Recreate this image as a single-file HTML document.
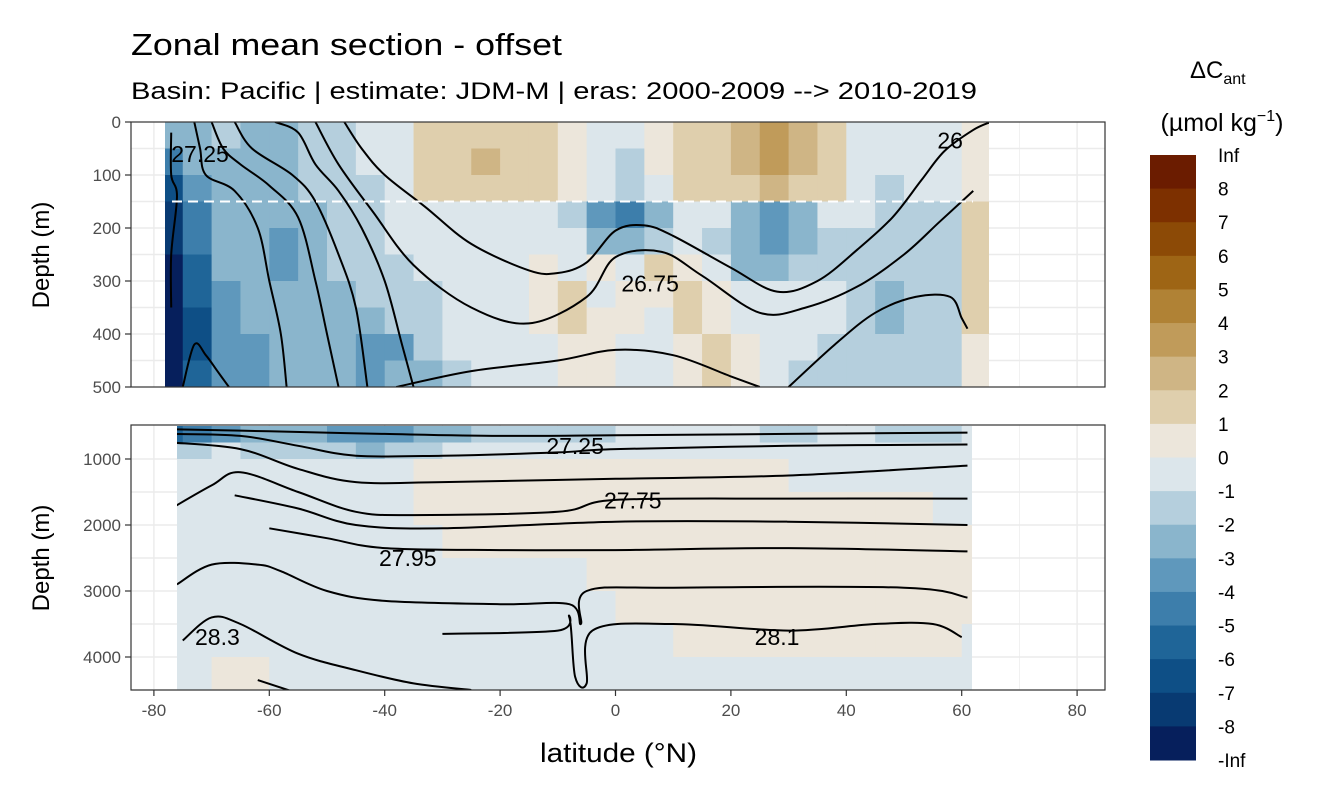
<!DOCTYPE html>
<html><head><meta charset="utf-8"><style>
body{margin:0;background:#fff;}
svg text{font-family:"Liberation Sans",sans-serif;}
</style></head><body>
<svg id="chart" width="1344" height="806" xmlns="http://www.w3.org/2000/svg">
<text x="131" y="55" font-size="31" textLength="431" lengthAdjust="spacingAndGlyphs" fill="#000">Zonal mean section - offset</text>
<text x="131" y="99" font-size="24" textLength="846" lengthAdjust="spacingAndGlyphs" fill="#000">Basin: Pacific | estimate: JDM-M | eras: 2000-2009 --&gt; 2010-2019</text>
<defs>
<clipPath id="clipTop"><rect x="165" y="122" width="824" height="265"/></clipPath>
<clipPath id="clipBot"><rect x="177" y="425" width="795" height="265"/></clipPath>
</defs>
<g id="gridTop"></g><g id="gridBot"></g>
<g id="cellsTop" clip-path="url(#clipTop)"></g>
<g id="cellsBot" clip-path="url(#clipBot)"></g>
<g id="linesTop" clip-path="url(#clipTop)"></g>
<g id="linesBot" clip-path="url(#clipBot)"></g>
<line x1="172" y1="201.5" x2="973" y2="201.5" stroke="#fff" stroke-width="2" stroke-dasharray="10,6"/>
<g id="labels" font-size="23" fill="#000"></g>
<rect x="131" y="122" width="974" height="265" fill="none" stroke="#333" stroke-width="1.2"/>
<rect x="131" y="425" width="974" height="265" fill="none" stroke="#333" stroke-width="1.2"/>
<g id="axes" font-size="17" fill="#4d4d4d"></g>
<text transform="translate(49,255) rotate(-90)" text-anchor="middle" font-size="24">Depth (m)</text>
<text transform="translate(49,558) rotate(-90)" text-anchor="middle" font-size="24">Depth (m)</text>
<text x="540" y="762" font-size="27" textLength="157" lengthAdjust="spacingAndGlyphs">latitude (°N)</text>
<text x="1190" y="78" font-size="24">ΔC<tspan font-size="16" dy="6">ant</tspan></text>
<text x="1222" y="131" text-anchor="middle" font-size="25">(µmol kg<tspan font-size="16" dy="-10">−1</tspan><tspan dy="10">)</tspan></text>
<g id="legend"></g>
</svg>
<script>
const palette=["#061f5c","#083a72","#0e4f86","#1f6598","#3d7eab","#5f98bc","#8ab5cc","#b5cfdd","#dce6eb","#ece6db","#dfcfad","#cfb585","#c09b5a","#b08235","#9e6515","#8c4a06","#7d3000","#6b1c00"];
const legendLabels=["Inf","8","7","6","5","4","3","2","1","0","-1","-2","-3","-4","-5","-6","-7","-8","-Inf"];
const colLats=[-80,-75,-70,-65,-60,-55,-50,-45,-40,-35,-30,-25,-20,-15,-10,-5,0,5,10,15,20,25,30,35,40,45,50,55,60];
const topRows=[0,50,100,150,200,250,300,350,400,450,500];
const botRows=[500,750,1000,1500,2000,2500,3000,3500,4000,4500];
const topValues=[
[-3,-3,-2,-3,-3,-2,-2,-1,-1,1,1,1,1,1,0,-1,-1,0,1,1,2,3,2,1,-1,-1,-1,-1,0],
[-5,-3,-3,-3,-3,-2,-2,-1,-1,1,1,2,1,1,0,-1,-2,0,1,1,2,3,2,1,-1,-1,-1,-1,0],
[-7,-4,-3,-3,-3,-2,-2,-2,-1,1,1,1,1,1,0,-1,-2,-1,1,1,1,2,1,1,-1,-2,-1,-1,0],
[-8,-5,-3,-3,-3,-3,-2,-2,-1,-1,-1,-1,-1,-1,-2,-4,-5,-3,-1,-1,-3,-4,-3,-1,-1,-2,-2,-2,1],
[-8,-5,-3,-3,-4,-3,-2,-2,-1,-1,-1,-1,-1,-1,-1,-3,-3,-2,-1,-2,-3,-4,-3,-2,-2,-2,-2,-2,1],
[-9,-6,-3,-3,-4,-3,-2,-2,-2,-1,-1,-1,-1,0,-1,0,-1,1,0,-1,-3,-3,-2,-2,-2,-2,-2,-2,1],
[-9,-6,-4,-3,-3,-3,-3,-2,-2,-2,-1,-1,-1,0,1,-1,0,0,1,0,-1,-1,-1,-1,-2,-3,-2,-2,1],
[-9,-7,-4,-3,-3,-3,-3,-3,-2,-2,-1,-1,-1,0,1,0,0,-1,1,0,-1,-1,-1,-1,-2,-3,-2,-2,1],
[-9,-7,-4,-4,-3,-3,-3,-4,-4,-2,-1,-1,-1,-1,0,0,-1,-1,0,1,0,-1,-1,-2,-2,-2,-2,-2,0],
[-9,-6,-4,-4,-3,-3,-3,-4,-3,-3,-2,-1,-1,-1,0,0,-1,-1,0,1,0,-1,-2,-2,-2,-2,-2,-2,0]];
const botValues=[
[-6,-5,-4,-3,-3,-3,-4,-4,-4,-3,-3,-2,-2,-2,-2,-2,-1,-1,-1,-1,-1,-2,-2,-1,-1,-2,-2,-2,-1],
[-2,-2,-1,-2,-2,-2,-2,-3,-2,-2,-1,-1,-1,-1,-1,-1,-1,-1,-1,-1,-1,-1,-1,-1,-1,-1,-1,-1,-1],
[-1,-1,-1,-1,-1,-1,-1,-1,-1,0,0,0,0,0,0,0,0,0,0,0,0,0,-1,-1,-1,-1,-1,-1,-1],
[-1,-1,-1,-1,-1,-1,-1,-1,-1,0,0,0,0,0,0,0,0,0,0,0,0,0,0,0,0,0,0,-1,-1],
[-1,-1,-1,-1,-1,-1,-1,-1,-1,-1,0,0,0,0,0,0,0,0,0,0,0,0,0,0,0,0,0,0,0],
[-1,-1,-1,-1,-1,-1,-1,-1,-1,-1,-1,-1,-1,-1,-1,0,0,0,0,0,0,0,0,0,0,0,0,0,0],
[-1,-1,-1,-1,-1,-1,-1,-1,-1,-1,-1,-1,-1,-1,-1,-1,0,0,0,0,0,0,0,0,0,0,0,0,0],
[-1,-1,-1,-1,-1,-1,-1,-1,-1,-1,-1,-1,-1,-1,-1,-1,-1,-1,0,0,0,0,0,0,0,0,0,0,-1],
[-1,-1,0,0,-1,-1,-1,-1,-1,-1,-1,-1,-1,-1,-1,-1,-1,-1,-1,-1,-1,-1,-1,-1,-1,-1,-1,-1,-1]];
const topLines=[
[[-77,20],[-77,100],[-76,140],[-77,250],[-77,350]],
[[-73,0],[-72,50],[-71,100],[-66,130],[-62,200],[-60,300],[-58,400],[-57,500]],
[[-70,0],[-68,50],[-65,80],[-60,120],[-55,180],[-52,300],[-50,400],[-48,500]],
[[-66,0],[-63,50],[-56,100],[-52,150],[-48,250],[-45,350],[-43,500]],
[[-59,0],[-55,20],[-52,80],[-48,130],[-44,200],[-40,300],[-37,420],[-35,500]],
[[-47,0],[-44,50],[-40,100],[-33,160],[-25,230],[-15,280],[-10,285],[-5,265],[0,205],[5,195],[10,215],[20,275],[28,320],[35,300],[42,240],[48,180],[53,110],[57,55],[62,15],[65,0]],
[[-52,0],[-48,80],[-42,170],[-35,270],[-25,350],[-15,380],[-5,330],[0,255],[8,245],[15,290],[25,360],[33,350],[42,310],[50,250],[56,190],[60,150],[62,130]],
[[-38,500],[-25,470],[-10,450],[0,430],[10,440],[20,480],[25,500]],
[[30,500],[38,420],[45,360],[52,330],[58,330],[60,370],[61,390]],
[[-75,500],[-73,420],[-71,440],[-69,470],[-67,500]]];
const botLines=[
[[-77,550],[-60,580],[-40,620],[-20,650],[0,640],[30,620],[61,600]],
[[-77,620],[-65,650],[-55,800],[-45,950],[-30,950],[-10,900],[0,850],[30,800],[61,780]],
[[-77,750],[-65,850],[-55,1150],[-45,1350],[-30,1350],[0,1300],[30,1250],[61,1100]],
[[-77,1750],[-70,1400],[-65,1200],[-55,1500],[-45,1800],[-35,1850],[-10,1800],[0,1620],[30,1600],[61,1600]],
[[-66,1550],[-55,1750],[-45,2000],[-30,2050],[0,1950],[30,1950],[61,2000]],
[[-60,2050],[-50,2200],[-40,2350],[-20,2380],[0,2380],[30,2350],[61,2400]],
[[-76,2900],[-70,2600],[-62,2600],[-58,2700],[-50,3000],[-40,3150],[-20,3200],[-8,3200],[-6,3500],[-5,3000],[10,2950],[50,2950],[61,3100]],
[[-30,3650],[-10,3600],[-8,3400],[-7,4300],[-5,4400],[-4,3600],[10,3500],[30,3600],[45,3500],[55,3500],[60,3700]],
[[-75,3750],[-70,3400],[-65,3500],[-55,3950],[-45,4200],[-35,4400],[-25,4500]],
[[-62,4350],[-55,4550]]];
const labelTexts=["27.25","26","26.75","27.25","27.75","27.95","28.3","28.1"];
const labelLats=[-72,58,6,-7,3,-36,-69,28];
const labelDepths=[60,35,305,800,1630,2500,3700,3700];
const labelPanels=[0,0,0,1,1,1,1,1];
const xTicks=[-80,-60,-40,-20,0,20,40,60,80];
const topTicks=[0,100,200,300,400,500];
const botTicks=[1000,2000,3000,4000];

const NS="http://www.w3.org/2000/svg";
const xS=l=>615.5+l*5.77;
const yT=d=>122+d*0.53;
const yB=d=>459+(d-1000)*0.066;
function mk(tag,attrs,parent){const e=document.createElementNS(NS,tag);for(const k in attrs)e.setAttribute(k,attrs[k]);parent.appendChild(e);return e;}
const $=id=>document.getElementById(id);
function grid(g,y0,y1,ys,ticks){
  for(let l=-90;l<=90;l+=10){const x=xS(l);if(x<131||x>1105)continue;
    const ln=mk('line',{x1:x,x2:x,y1:y0,y2:y1,stroke:'#ebebeb','stroke-width':l%20===0?1.4:0.7},g);
    }
  ticks.forEach(t=>{const ln=mk('line',{x1:131,x2:1105,y1:ys(t),y2:ys(t),stroke:'#ebebeb','stroke-width':1.4},g);
    });
}
grid($('gridTop'),122,387,yT,[50,100,150,200,250,300,350,400,450]);
grid($('gridBot'),425,690,yB,[1000,1500,2000,2500,3000,3500,4000,4500]);
function cells(g,rows,vals,ys){
  for(let r=0;r<vals.length;r++)for(let c=0;c<colLats.length;c++){
    const v=vals[r][c];const x0=xS(colLats[c]),x1=xS(colLats[c]+5);
    const y0=ys(rows[r]),y1=ys(rows[r+1]);
    const rc=mk('rect',{x:x0,y:y0,width:x1-x0+0.6,height:y1-y0+0.6,fill:palette[Math.max(0,Math.min(17,v+9))]},g);
    
    
  }
}
cells($('cellsTop'),topRows,topValues,yT);
cells($('cellsBot'),botRows,botValues,yB);
function smooth(pts){
  if(pts.length<3)return 'M'+pts.map(p=>p.join(',')).join('L');
  let d='M'+pts[0][0]+','+pts[0][1];
  for(let i=0;i<pts.length-1;i++){
    const p0=pts[i-1]||pts[i],p1=pts[i],p2=pts[i+1],p3=pts[i+2]||p2;
    const c1=[p1[0]+(p2[0]-p0[0])/6,p1[1]+(p2[1]-p0[1])/6],c2=[p2[0]-(p3[0]-p1[0])/6,p2[1]-(p3[1]-p1[1])/6];
    d+='C'+c1+' '+c2+' '+p2;
  }
  return d;
}
function lines(g,ls,ys){
  ls.forEach(l=>{const p=mk('path',{d:smooth(l.map(q=>[xS(q[0]),ys(q[1])])),fill:'none',stroke:'#000','stroke-width':2,'stroke-linejoin':'round'},g);
    
    });
}
lines($('linesTop'),topLines,yT);
lines($('linesBot'),botLines,yB);
labelTexts.forEach((t,i)=>{const ys=labelPanels[i]?yB:yT;
  const e=mk('text',{x:xS(labelLats[i]),y:ys(labelDepths[i])+8,'text-anchor':'middle'},$('labels'));e.textContent=t;
  
  });
const ax=$('axes');
xTicks.forEach(t=>{mk('line',{x1:xS(t),x2:xS(t),y1:690,y2:696,stroke:'#333','stroke-width':1.2},ax);
  const e=mk('text',{x:xS(t),y:716,'text-anchor':'middle'},ax);e.textContent=t;
  
  });
topTicks.forEach(t=>{mk('line',{x1:125,x2:131,y1:yT(t),y2:yT(t),stroke:'#333','stroke-width':1.2},ax);
  const e=mk('text',{x:121,y:yT(t)+6,'text-anchor':'end'},ax);e.textContent=t;
  
  });
botTicks.forEach(t=>{mk('line',{x1:125,x2:131,y1:yB(t),y2:yB(t),stroke:'#333','stroke-width':1.2},ax);
  const e=mk('text',{x:121,y:yB(t)+6,'text-anchor':'end'},ax);e.textContent=t;
  
  });
const lg=$('legend');const bh=(760-155)/18;
for(let i=0;i<18;i++){const r=mk('rect',{x:1150,y:155+i*bh,width:46,height:bh+0.5,fill:palette[17-i]},lg);
  
  }
legendLabels.forEach((t,i)=>{const e=mk('text',{x:1218,y:155+i*bh+7,'font-size':19,fill:'#000'},lg);e.textContent=t;
  
  });
</script>
</body></html>
